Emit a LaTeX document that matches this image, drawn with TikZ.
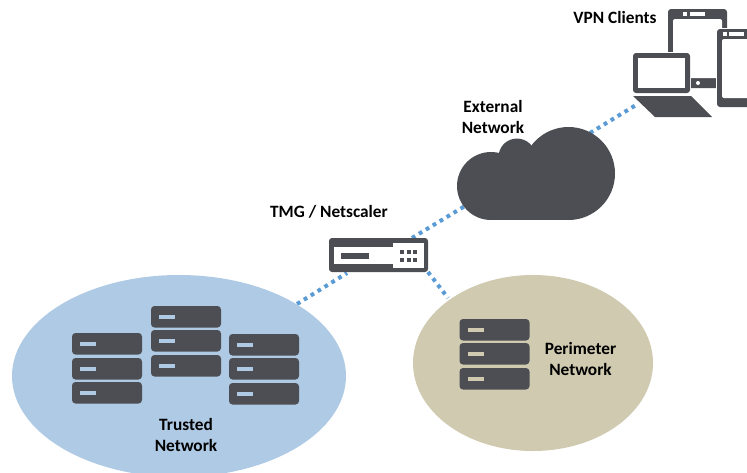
\documentclass[tikz,border=0pt]{standalone}
\usepackage{fontspec}
\setmainfont{Carlito}
\definecolor{dark}{HTML}{4D4E53}
\definecolor{link}{HTML}{5B9BD5}
\definecolor{trustedbg}{HTML}{AFCAE4}
\definecolor{perimeterbg}{HTML}{CFCAB0}
\tikzset{
  label text/.style={font=\fontsize{17.3}{20.5}\selectfont\bfseries,align=center,text=black,inner sep=0pt},
  link line/.style={draw=link,line width=4pt,dash pattern=on 3.8pt off 4.3pt},
  serverbox/.style={fill=dark,rounded corners=3.5pt},
  plate/.style={fill=dark,rounded corners=3pt},
  blank/.style={fill=white}
}
\begin{document}
\begin{tikzpicture}[x=1pt,y=-1pt]
\useasboundingbox (0,0) rectangle (747,472);
\coordinate (trustedEdge) at (297,304);
\coordinate (perimeterEdge) at (448,298);
\coordinate (gwSW) at (347,273);
\coordinate (gwNE) at (412,238);
\coordinate (gwSE) at (428,272);
\coordinate (cloudSW) at (465,206);
\coordinate (cloudNE) at (590,133);
\coordinate (laptopEdge) at (636,105);
\draw[link line] (trustedEdge) -- (gwSW);
\draw[link line] (gwNE) -- (cloudSW);
\draw[link line] (gwSE) -- (perimeterEdge);
\draw[link line] (cloudNE) -- (laptopEdge);
% zones
\begin{scope}
\clip (0,0) rectangle (747,472);
\fill[trustedbg] (179,376) ellipse [x radius=167,y radius=101];
\end{scope}
\fill[perimeterbg] (533,363) ellipse [x radius=120,y radius=88];
% servers
\foreach \x/\y/\c in {72/333/trustedbg,72/358/trustedbg,72/382/trustedbg,
                      151/306/trustedbg,151/330/trustedbg,151/355/trustedbg,
                      229/334/trustedbg,229/358/trustedbg,229/383/trustedbg,
                      459.5/319/perimeterbg,459.5/343/perimeterbg,459.5/368/perimeterbg}{
  \fill[serverbox] (\x,\y) rectangle ++(70,21.5);
  \fill[\c] (\x+8,\y+8.5) rectangle ++(16,4.5);
}
% cloud
\fill[dark] (491,186) circle (34);
\fill[dark] (517,157) circle (18.5);
\fill[dark] (568.5,173.5) circle (46.5);
\fill[dark] (491,178) rectangle (568.5,220);
\fill[dark] (517,150) rectangle (568.5,190);
% gateway
\fill[plate] (329,238) rectangle (428,272);
\fill[blank] (334,246.5) rectangle (394,264);
\fill[blank] (393,243) rectangle (424,268);
\fill[dark] (341,253) rectangle (369,259);
\foreach \x in {400,406.5,413}\foreach \y in {250,258}{
  \fill[dark] (\x,\y) rectangle ++(4,4);
}
% tablet
\fill[plate] (668,9) rectangle (727,88);
\fill[blank,rounded corners=2pt] (673,19) rectangle (722,78);
\fill[blank] (683,12) rectangle (687,16);
\fill[blank] (690,12) rectangle (705,16);
\fill[blank] (698,83) circle (2);
% phone
\fill[blank] (716,28) rectangle (747,108);
\fill[plate] (717,29) rectangle (760,107);
\fill[blank,rounded corners=2pt] (722,39) rectangle (750,98);
\fill[blank] (723,32) rectangle (727,36);
\fill[blank] (729,32) rectangle (744,36);
% laptop
\fill[blank] (632,52) rectangle (691,94);
\fill[plate] (633,53) rectangle (690,93);
\fill[blank] (638,58) rectangle (685,88);
\fill[dark] (633,96) -- (691,96) -- (712,117) -- (655,117) -- cycle;
% labels
\node[label text] (vpn) at (615,17) {VPN Clients};
\node[label text] (external) at (493,117) {External\\Network};
\node[label text] (tmg) at (329,212) {TMG / Netscaler};
\node[label text] (perimeter) at (580.5,359) {Perimeter\\Network};
\node[label text] (trusted) at (186,435) {Trusted\\Network};
\end{tikzpicture}
\end{document}
